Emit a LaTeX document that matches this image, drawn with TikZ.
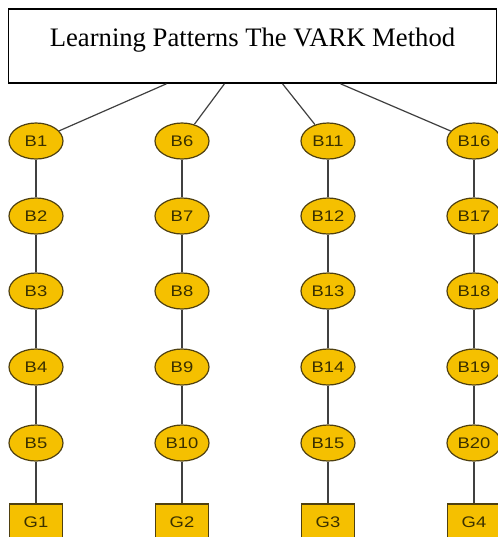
\documentclass[tikz,border=0pt]{standalone}
\usepackage{fontspec}
\setmainfont{Liberation Serif}
\newfontfamily\beadfont[FakeStretch=1.2]{Liberation Sans}
\usetikzlibrary{shapes.geometric}
\definecolor{gold}{HTML}{F5C000}
\definecolor{rim}{HTML}{4F4010}
\definecolor{ink}{HTML}{3A3000}
\tikzstyle{titlebox}=[draw, line width=1.2pt, minimum width=366pt, minimum height=55.5pt, inner sep=0pt, text height=20pt, text depth=20pt, font=\fontsize{20}{24}\selectfont]
\tikzstyle{bead}=[ellipse, draw=rim, line width=0.9pt, fill=gold, text=ink, inner sep=0pt, minimum width=40.5pt, minimum height=27pt, font=\beadfont\fontsize{11.5}{13}\selectfont]
\tikzstyle{goal}=[rectangle, draw=rim, line width=0.9pt, fill=gold, text=ink, inner sep=0pt, minimum width=39.75pt, minimum height=27pt, font=\beadfont\fontsize{11.5}{13}\selectfont]
\tikzstyle{link}=[draw=black!75, line width=0.9pt]

\begin{document}
\begin{tikzpicture}[x=0.75pt, y=-0.75pt]
    \path[use as bounding box, clip] (0,0) rectangle (498,537);
% Title
    \node[titlebox] (title) at (252.5,46) {Learning Patterns The VARK Method};
% First column
    \node[bead] (b1) at (36,141) {B1};
    \node[bead] (b2) at (36,216) {B2};
    \node[bead] (b3) at (36,291) {B3};
    \node[bead] (b4) at (36,367) {B4};
    \node[bead] (b5) at (36,443) {B5};
    \node[goal] (g1) at (36,522) {G1};
% Second column
    \node[bead] (b6) at (182,141) {B6};
    \node[bead] (b7) at (182,216) {B7};
    \node[bead] (b8) at (182,291) {B8};
    \node[bead] (b9) at (182,367) {B9};
    \node[bead] (b10) at (182,443) {B10};
    \node[goal] (g2) at (182,522) {G2};
% Third column
    \node[bead] (b11) at (328,141) {B11};
    \node[bead] (b12) at (328,216) {B12};
    \node[bead] (b13) at (328,291) {B13};
    \node[bead] (b14) at (328,367) {B14};
    \node[bead] (b15) at (328,443) {B15};
    \node[goal] (g3) at (328,522) {G3};
% Fourth column
    \node[bead] (b16) at (474,141) {B16};
    \node[bead] (b17) at (474,216) {B17};
    \node[bead] (b18) at (474,291) {B18};
    \node[bead] (b19) at (474,367) {B19};
    \node[bead] (b20) at (474,443) {B20};
    \node[goal] (g4) at (474,522) {G4};
% Links from the title
    \draw[link] (title) -- (b1);
    \draw[link] (title) -- (b6);
    \draw[link] (title) -- (b11);
    \draw[link] (title) -- (b16);
% Links down each column
    \draw[link] (b1) -- (b2) -- (b3) -- (b4) -- (b5) -- (g1);
    \draw[link] (b6) -- (b7) -- (b8) -- (b9) -- (b10) -- (g2);
    \draw[link] (b11) -- (b12) -- (b13) -- (b14) -- (b15) -- (g3);
    \draw[link] (b16) -- (b17) -- (b18) -- (b19) -- (b20) -- (g4);
\end{tikzpicture}
\end{document}
